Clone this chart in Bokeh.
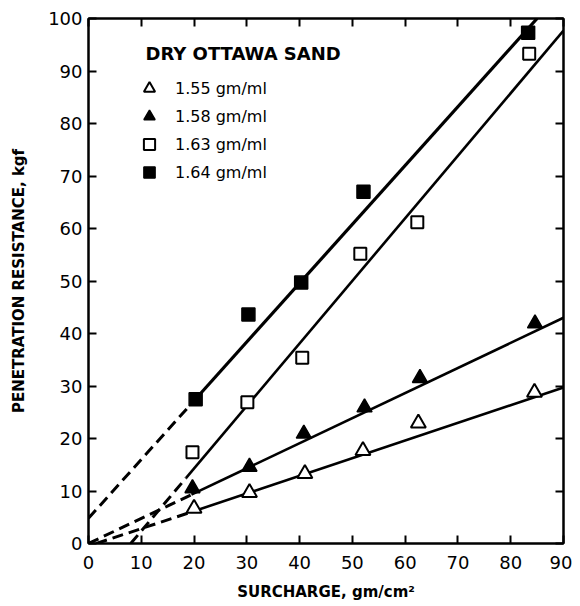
from bokeh.plotting import figure
from bokeh.models import (Range1d, LinearAxis, SingleIntervalTicker, Legend, LegendItem, Label)
from bokeh.embed import file_html
from bokeh.resources import INLINE

# ---- data ----
title_text = "DRY OTTAWA SAND"
labels = ["1.55 gm/ml", "1.58 gm/ml", "1.63 gm/ml", "1.64 gm/ml"]

x155 = [20.0, 30.5, 41.0, 52.0, 62.5, 84.5]
y155 = [6.7, 9.7, 13.3, 17.7, 22.9, 28.8]

x158 = [19.7, 30.5, 40.8, 52.3, 62.8, 84.6]
y158 = [10.5, 14.6, 20.9, 25.9, 31.5, 41.9]

x163 = [19.7, 30.1, 40.5, 51.5, 62.3, 83.5]
y163 = [17.4, 26.9, 35.4, 55.2, 61.2, 93.3]

x164 = [20.3, 30.3, 40.3, 52.1, 83.3]
y164 = [27.5, 43.6, 49.7, 67.0, 97.3]

# fitted lines: solid part and dashed extrapolation
fit155_solid_x = [19.5, 90.0]; fit155_solid_y = [6.0, 29.7]
fit155_dash_x = [1.5, 19.5];   fit155_dash_y = [0.0, 6.0]
fit158_solid_x = [19.5, 90.0]; fit158_solid_y = [9.3, 43.0]
fit158_dash_x = [0.0, 19.5];   fit158_dash_y = [0.0, 9.3]
fit163_solid_x = [18.5, 90.0]; fit163_solid_y = [12.5, 97.7]
fit163_dash_x = [8.0, 18.5];   fit163_dash_y = [0.0, 12.5]
fit164_solid_x = [20.0, 85.0]; fit164_solid_y = [27.2, 100.0]
fit164_dash_x = [0.0, 20.0];   fit164_dash_y = [4.8, 27.2]

FONT = "DejaVu Sans"

p = figure(width=572, height=604, output_backend="svg", toolbar_location=None,
           x_range=Range1d(0, 90), y_range=Range1d(0, 100),
           min_border_left=88, min_border_right=9, min_border_top=18, min_border_bottom=61)
p.grid.visible = False
p.outline_line_color = "black"
p.outline_line_width = 2
p.background_fill_color = "white"
p.border_fill_color = "white"

for ax in (p.xaxis[0], p.yaxis[0]):
    ax.ticker = SingleIntervalTicker(interval=10)
    ax.major_tick_in = 8
    ax.major_tick_out = 0
    ax.minor_tick_in = 0
    ax.minor_tick_out = 0
    ax.axis_line_width = 2
    ax.major_tick_line_width = 2
    ax.major_label_text_font = FONT
    ax.major_label_text_font_size = "18px"
    ax.major_label_text_color = "black"
    ax.axis_label_text_font = FONT
    ax.axis_label_text_font_style = "bold"
    ax.axis_label_text_font_size = "15px"
    ax.axis_label_text_color = "black"

p.xaxis[0].axis_label = "SURCHARGE, gm/cm²"
p.xaxis[0].major_label_standoff = 12
p.xaxis[0].axis_label_standoff = 11
p.yaxis[0].axis_label = "PENETRATION RESISTANCE, kgf"
p.yaxis[0].major_label_standoff = 6
p.yaxis[0].axis_label_standoff = 17

for loc in ("above", "right"):
    ax = LinearAxis(ticker=SingleIntervalTicker(interval=10))
    ax.major_tick_in = 8
    ax.major_tick_out = 0
    ax.minor_tick_in = 0
    ax.minor_tick_out = 0
    ax.axis_line_width = 2
    ax.major_tick_line_width = 2
    ax.major_label_text_color = None
    ax.major_label_text_font_size = "1px"
    ax.major_label_standoff = 0
    p.add_layout(ax, loc)

LW = 2.6
DLW = 3
DASH = "11 6"
p.line(fit155_solid_x, fit155_solid_y, line_color="black", line_width=LW)
p.line(fit155_dash_x, fit155_dash_y, line_color="black", line_width=DLW, line_dash=DASH)
p.line(fit158_solid_x, fit158_solid_y, line_color="black", line_width=LW)
p.line(fit158_dash_x, fit158_dash_y, line_color="black", line_width=DLW, line_dash=DASH)
p.line(fit163_solid_x, fit163_solid_y, line_color="black", line_width=LW)
p.line(fit163_dash_x, fit163_dash_y, line_color="black", line_width=DLW, line_dash=DASH)
p.line(fit164_solid_x, fit164_solid_y, line_color="black", line_width=3.2)
p.line(fit164_dash_x, fit164_dash_y, line_color="black", line_width=DLW, line_dash=DASH)

r155 = p.scatter(x155, y155, marker="triangle", size=15, fill_color="white",
                 line_color="black", line_width=2)
r158 = p.scatter(x158, y158, marker="triangle", size=15, fill_color="black",
                 line_color="black", line_width=1.5)
r163 = p.scatter(x163, y163, marker="square", size=12, fill_color="white",
                 line_color="black", line_width=2)
r164 = p.scatter(x164, y164, marker="square", size=13, fill_color="black",
                 line_color="black", line_width=1.5)

title_label = Label(x=57, y=490, x_units="screen", y_units="screen", text=title_text,
                    text_font=FONT, text_font_style="bold", text_font_size="18px",
                    text_color="black", text_baseline="middle", text_align="left")
p.add_layout(title_label)

legend = Legend(items=[LegendItem(label=labels[0], renderers=[r155]),
                       LegendItem(label=labels[1], renderers=[r158]),
                       LegendItem(label=labels[2], renderers=[r163]),
                       LegendItem(label=labels[3], renderers=[r164])],
                location=(46, 357))
legend.label_text_font = FONT
legend.label_text_font_size = "16px"
legend.label_text_color = "black"
legend.label_standoff = 11
legend.glyph_width = 30
legend.glyph_height = 28
legend.spacing = 0
legend.padding = 0
legend.margin = 0
legend.border_line_color = None
legend.background_fill_alpha = 0
p.add_layout(legend)

open("out.html", "w").write(file_html(p, INLINE))
